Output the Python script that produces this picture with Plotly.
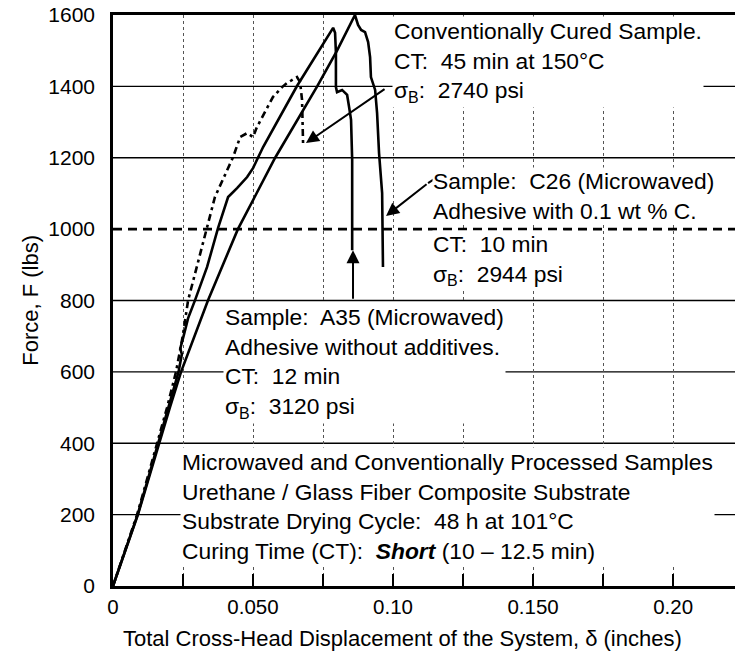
import plotly.graph_objects as go

# ---------------- data ----------------
# Conventionally cured sample (dash-dot curve)
conv_x = [0, 0.0043, 0.0086, 0.0122, 0.0158, 0.0193, 0.0225, 0.0249, 0.0268, 0.0302,
          0.0336, 0.0364, 0.0429, 0.0454, 0.0479, 0.0500, 0.0514, 0.0571, 0.0604, 0.0621,
          0.0657, 0.0668, 0.0675, 0.0679]
conv_f = [0, 100, 200, 300, 400, 500, 600, 700, 800, 900,
          1000, 1090, 1202, 1258, 1269, 1258, 1286, 1370, 1398, 1409,
          1426, 1412, 1362, 1230]

# Sample C26 (microwaved, 0.1 wt % C)
c26_x = [0, 0.0045, 0.0089, 0.0127, 0.0164, 0.0203, 0.0243, 0.0290, 0.0339, 0.0446,
         0.0579, 0.0729, 0.0800, 0.0864, 0.0875, 0.0886, 0.0900, 0.0911, 0.0918, 0.0921,
         0.0936, 0.0943, 0.0950, 0.0961, 0.0964, 0.0964]
c26_f = [0, 100, 200, 300, 400, 500, 600, 700, 800, 1000,
         1200, 1400, 1500, 1600, 1572, 1558, 1552, 1524, 1482, 1426,
         1390, 1325, 1213, 1101, 933, 894]

# Sample A35 (microwaved, no additives)
a35_x = [0, 0.0045, 0.0088, 0.0125, 0.0161, 0.0198, 0.0234, 0.0246, 0.0240, 0.0252,
         0.0268, 0.0293, 0.0336, 0.0375, 0.0411, 0.0443, 0.0479, 0.0500, 0.0536, 0.0657,
         0.0786, 0.0793, 0.0796, 0.0796, 0.0800, 0.0818, 0.0836, 0.0843, 0.0850, 0.0854,
         0.0854]
a35_f = [0, 100, 200, 300, 400, 500, 600, 650, 665, 700,
         750, 801, 894, 1003, 1090, 1115, 1146, 1171, 1230, 1401,
         1564, 1550, 1494, 1398, 1384, 1390, 1376, 1342, 1306, 1194,
         941]

x_tickvals = [0, 0.05, 0.10, 0.15, 0.20]
x_ticktext = ["0", "0.050", "0.10", "0.150", "0.20"]
y_tickvals = [0, 200, 400, 600, 800, 1000, 1200, 1400, 1600]
y_ticktext = ["0", "200", "400", "600", "800", "1000", "1200", "1400", "1600"]
grid_f = [200, 400, 600, 800, 1200, 1400]
ref_f = 1000

FONT = "Liberation Sans, Arial, Helvetica, sans-serif"
TXT = 22.8

fig = go.Figure()
line_w = 2.6
fig.add_trace(go.Scatter(x=conv_x, y=conv_f, mode="lines",
                         line=dict(color="black", width=line_w, dash="7px,4px,3px,4px"),
                         showlegend=False, hoverinfo="skip"))
fig.add_trace(go.Scatter(x=a35_x, y=a35_f, mode="lines",
                         line=dict(color="black", width=line_w),
                         showlegend=False, hoverinfo="skip"))
fig.add_trace(go.Scatter(x=c26_x, y=c26_f, mode="lines",
                         line=dict(color="black", width=line_w),
                         showlegend=False, hoverinfo="skip"))

shapes = []
for g in grid_f:
    shapes.append(dict(type="line", xref="paper", yref="y", x0=0, x1=1, y0=g, y1=g,
                       line=dict(color="black", width=1.3), layer="below"))
shapes.append(dict(type="line", xref="paper", yref="y", x0=0, x1=1, y0=ref_f, y1=ref_f,
                   line=dict(color="black", width=2.6, dash="9px,6px"), layer="above"))
# little hook on the C26 leader line
shapes.append(dict(type="line", xref="x", yref="y", x0=0.1125, y0=1129, x1=0.1152, y1=1143,
                   line=dict(color="black", width=2), layer="above"))
fig.update_layout(shapes=shapes)

ann_font = dict(family=FONT, size=TXT, color="black")
annotations = [
    dict(x=0.0996, y=1598, xref="x", yref="y", xanchor="left", yanchor="top", align="left",
         text="Conventionally Cured Sample.<br>CT:  45 min at 150°C<br>σ<sub>B</sub>:  2740 psi",
         showarrow=False, font=ann_font, bgcolor="white", borderpad=1),
    dict(x=0.1139, y=1011, xref="x", yref="y", xanchor="left", yanchor="bottom", align="left",
         text="Sample:  C26 (Microwaved)<br>Adhesive with 0.1 wt % C.",
         showarrow=False, font=ann_font, bgcolor="white", borderpad=0),
    dict(x=0.1139, y=997, xref="x", yref="y", xanchor="left", yanchor="top", align="left",
         text="CT:  10 min<br>σ<sub>B</sub>:  2944 psi",
         showarrow=False, font=ann_font, bgcolor="white", borderpad=0),
    dict(x=0.0393, y=796, xref="x", yref="y", xanchor="left", yanchor="top", align="left",
         text="Sample:  A35 (Microwaved)<br>Adhesive without additives.<br>CT:  12 min<br>σ<sub>B</sub>:  3120 psi",
         showarrow=False, font=ann_font, bgcolor="white", borderpad=1),
    dict(x=0.0239, y=389, xref="x", yref="y", xanchor="left", yanchor="top", align="left",
         text="Microwaved and Conventionally Processed Samples<br>Urethane / Glass Fiber Composite Substrate"
              "<br>Substrate Drying Cycle:  48 h at 101°C<br>Curing Time (CT):  <b><i>Short</i></b> (10 – 12.5 min)",
         showarrow=False, font=ann_font, bgcolor="white", borderpad=1),
    # arrows
    dict(x=0.0689, y=1241, ax=0.0975, ay=1395, xref="x", yref="y", axref="x", ayref="y",
         text="", showarrow=True, arrowhead=2, arrowsize=1.3, arrowwidth=2, arrowcolor="black"),
    dict(x=0.0975, y=1037, ax=0.1125, ay=1129, xref="x", yref="y", axref="x", ayref="y",
         text="", showarrow=True, arrowhead=2, arrowsize=1.3, arrowwidth=2, arrowcolor="black"),
    dict(x=0.0857, y=941, ax=0.0857, ay=801, xref="x", yref="y", axref="x", ayref="y",
         text="", showarrow=True, arrowhead=2, arrowsize=1.3, arrowwidth=2, arrowcolor="black"),
    # axis titles
    dict(x=0.465, y=-0.0925, xref="paper", yref="paper", xanchor="center", yanchor="middle",
         text="Total Cross-Head Displacement of the System, δ (inches)", showarrow=False,
         font=dict(family=FONT, size=22, color="black")),
    dict(x=-0.133, y=0.5, xref="paper", yref="paper", xanchor="center", yanchor="middle",
         text="Force, F (lbs)", textangle=-90, showarrow=False,
         font=dict(family=FONT, size=22, color="black")),
]
fig.update_layout(annotations=annotations)

fig.update_xaxes(range=[0, 0.2221], tickvals=x_tickvals, ticktext=x_ticktext,
                 ticks="inside", ticklen=12, tickwidth=1.5, tickcolor="black",
                 showline=True, linecolor="black", linewidth=2.6, mirror=True,
                 showgrid=True, gridcolor="#555", gridwidth=1, griddash="dot",
                 minor=dict(dtick=0.025, tick0=0, ticks="inside", ticklen=12, tickwidth=1.5,
                            tickcolor="black", showgrid=True, gridcolor="#555", gridwidth=1,
                            griddash="dot"),
                 zeroline=False, ticklabelstandoff=1,
                 tickfont=dict(family=FONT, size=20.5, color="black"))
fig.update_yaxes(range=[0, 1600], tickvals=y_tickvals, ticktext=y_ticktext,
                 ticks="", showline=True, linecolor="black", linewidth=2.6, mirror=False,
                 showgrid=False, zeroline=False, ticklabelstandoff=11,
                 tickfont=dict(family=FONT, size=21, color="black"))

fig.update_layout(width=735, height=654, margin=dict(l=113, r=0, t=15, b=68),
                  plot_bgcolor="white", paper_bgcolor="white", showlegend=False)

fig.write_html("out.html")
